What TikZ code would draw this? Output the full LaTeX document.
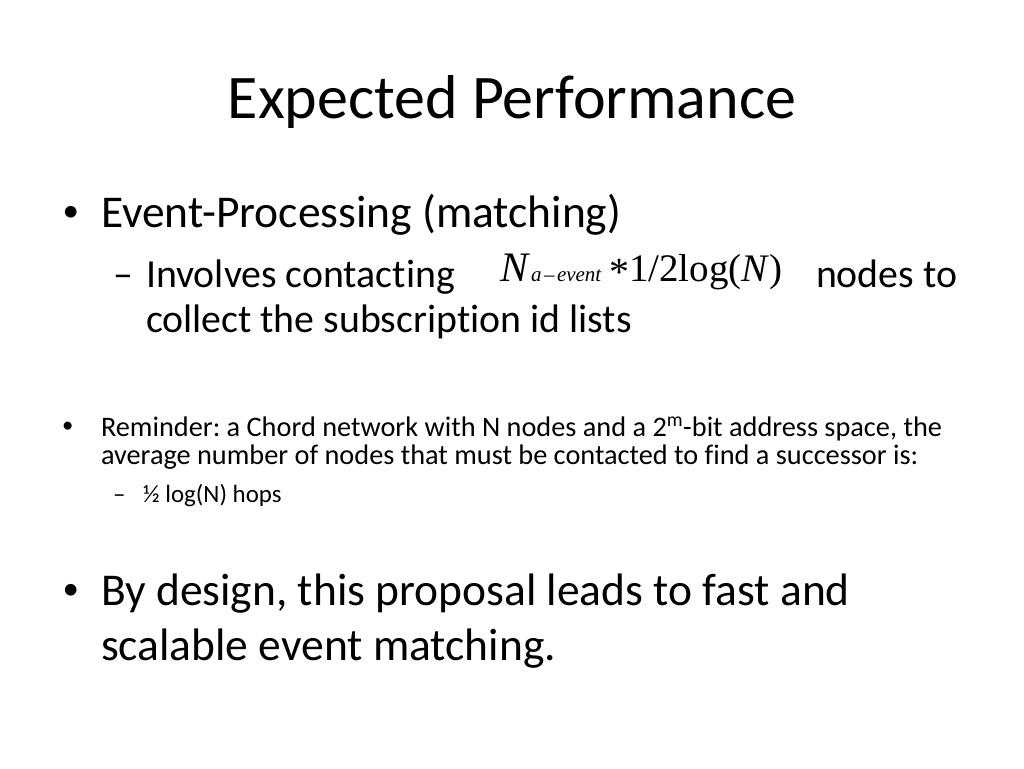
\documentclass[tikz,border=0pt]{standalone}
\usepackage{fontspec}
\setmainfont{Carlito}[Ligatures=NoCommon]
\newfontfamily\timesf{Liberation Serif}
\frenchspacing
\begin{document}
\begin{tikzpicture}[x=1pt,y=-1pt,
  txt/.style={anchor=base west,inner sep=0pt,outer sep=0pt},
  title/.style={txt,font=\fontsize{62}{74}\selectfont},
  lone/.style={txt,font=\fontsize{45.5}{54}\selectfont},
  ltwo/.style={txt,font=\fontsize{39.8}{48}\selectfont},
  sml/.style={txt,font=\fontsize{28.3}{34}\selectfont},
  smlt/.style={txt,font=\fontsize{24.9}{30}\selectfont},
  bigbul/.style={txt,font=\fontsize{33}{40}\selectfont},
  smlbul/.style={txt,font=\fontsize{22.7}{28}\selectfont},
  fbig/.style={txt,font=\timesf\fontsize{39}{46}\selectfont},
  fnn/.style={txt,font=\timesf\fontsize{42}{48}\selectfont},
  fast/.style={txt,font=\timesf\fontsize{40}{46}\selectfont},
  fsub/.style={txt,font=\timesf\fontsize{21}{24}\selectfont}]
\useasboundingbox (0,0) rectangle (1024,768);
\node[title,anchor=base] (t) at (512,118) {Expected Performance};
\node[bigbul] (b1) at (62.5,221) {•};
\node[lone] (e1) at (101,227) {Event-Processing (matching)};
\node[ltwo] (d1) at (113,287) {–};
\node[ltwo] (i1) at (146,287) {Involves contacting};
\node[fnn] (fn) at (500,281) {\textit{N}};
\node[fsub] (fs1) at (531,281) {\textit{a}};
\node[fsub] (fs2) at (544,281) {–};
\node[fsub] (fs3) at (557,281) {\textit{event}};
\node[fast] (fa) at (609,285) {*};
\node[fbig] (fb) at (629,281) {1/2log(\textit{N})};
\node[ltwo] (i2) at (816,287) {nodes to};
\node[ltwo] (c1) at (146,332) {collect the subscription id lists};
\node[smlbul] (b2) at (62,432) {•};
\node[sml] (r1) at (101,436) {Reminder: a Chord network with N nodes and a 2\textsuperscript{m}-bit address space, the};
\node[sml] (r2) at (101,464) {average number of nodes that must be contacted to find a successor is:};
\node[smlt] (d2) at (113,502) {–};
\node[smlt] (h1) at (143,502) {½ log(N) hops};
\node[bigbul] (b3) at (62.5,599) {•};
\node[lone] (y1) at (101,605) {By design, this proposal leads to fast and};
\node[lone] (y2) at (101,660) {scalable event matching.};
\end{tikzpicture}
\end{document}
